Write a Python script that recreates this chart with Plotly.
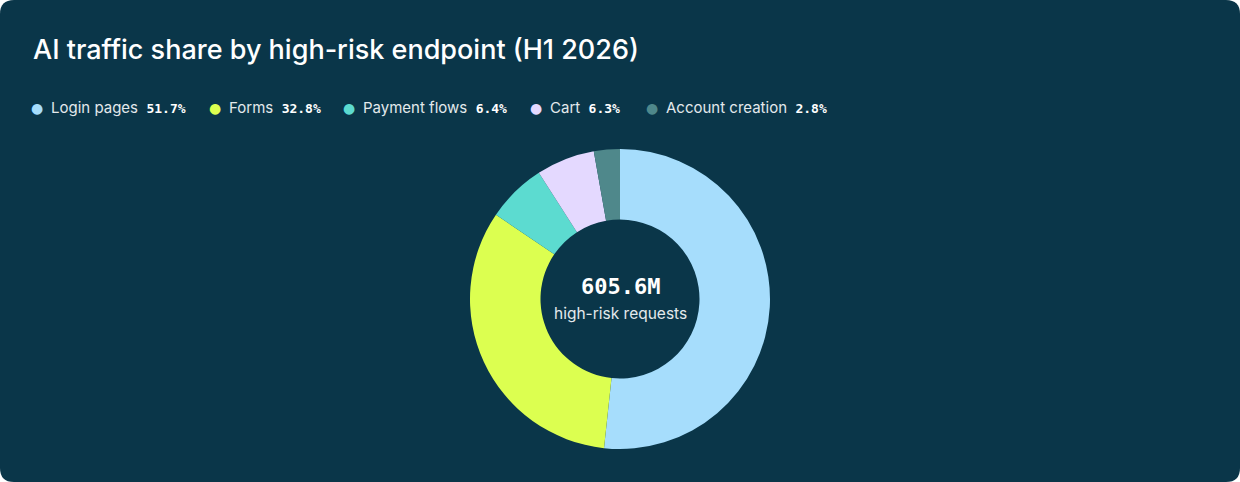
import plotly.graph_objects as go

# endpoint shares, H1 2026
endpoints = ["Login pages", "Forms", "Payment flows", "Cart", "Account creation"]
shares = [51.7, 32.8, 6.4, 6.3, 2.8]
colors = ["#a6ddfc", "#dcff50", "#5cdbd0", "#e4d9ff", "#4f888b"]
total_label = "605.6M"
total_caption = "high-risk requests"

CARD = "#0a3649"
SANS = "Inter, Lato, sans-serif"
MONO = "DejaVu Sans Mono, Liberation Mono, monospace"
W, H = 1240, 482

fig = go.Figure()

fig.add_trace(
    go.Pie(
        labels=endpoints,
        values=shares,
        marker=dict(colors=colors, line=dict(width=0)),
        hole=0.53,
        sort=False,
        direction="clockwise",
        textinfo="none",
        hovertemplate="%{label}: %{value}%<extra></extra>",
        showlegend=False,
        domain=dict(x=[470 / W, 770 / W], y=[1 - 449 / H, 1 - 149 / H]),
    )
)

# rounded card behind everything
r = 14
rx, ry = r / W, r / H
card_path = (
    f"M {rx},0 L {1 - rx},0 Q 1,0 1,{ry} L 1,{1 - ry} Q 1,1 {1 - rx},1 "
    f"L {rx},1 Q 0,1 0,{1 - ry} L 0,{ry} Q 0,0 {rx},0 Z"
)
fig.add_shape(type="path", path=card_path, xref="paper", yref="paper",
              fillcolor=CARD, line=dict(width=0), layer="below")

# legend row drawn as text
legend_x = [37, 215, 349, 536, 652]
legend_y = 1 - 108 / H
for name, pct, col, px_ in zip(endpoints, shares, colors, legend_x):
    fig.add_annotation(
        x=px_ / W, y=legend_y, xref="paper", yref="paper",
        xanchor="center", yanchor="middle", showarrow=False,
        text="●", font=dict(size=14, color=col, family="DejaVu Sans"),
    )
    fig.add_annotation(
        x=(px_ + 12) / W, y=legend_y, xref="paper", yref="paper",
        xanchor="left", yanchor="middle", showarrow=False,
        text=(f'{name}  <span style="font-family:{MONO};font-size:13px;'
              f'font-weight:600;color:#ffffff">{pct:.1f}%</span>'),
        font=dict(size=15, color="#e3e9ec", family=SANS),
    )

# centre label
fig.add_annotation(
    x=0.5, y=1 - 286 / H, xref="paper", yref="paper", showarrow=False,
    text=f"<b>{total_label}</b>", font=dict(size=22, color="#ffffff", family=MONO),
)
fig.add_annotation(
    x=0.5, y=1 - 313 / H, xref="paper", yref="paper", showarrow=False,
    text=total_caption, font=dict(size=15.5, color="#e3e9ec", family=SANS),
)

fig.update_layout(
    width=W,
    height=H,
    margin=dict(l=0, r=0, t=0, b=0),
    paper_bgcolor="#ffffff",
    plot_bgcolor="#ffffff",
    title=dict(
        text="AI traffic share by high-risk endpoint (H1 2026)",
        x=33 / W, xanchor="left", y=1 - 50 / H, yanchor="middle",
        font=dict(size=27, color="#ffffff", family=SANS, weight=500),
    ),
)

fig.write_html("out.html", config={"displayModeBar": False},
               post_script="document.body.style.margin='0';")
